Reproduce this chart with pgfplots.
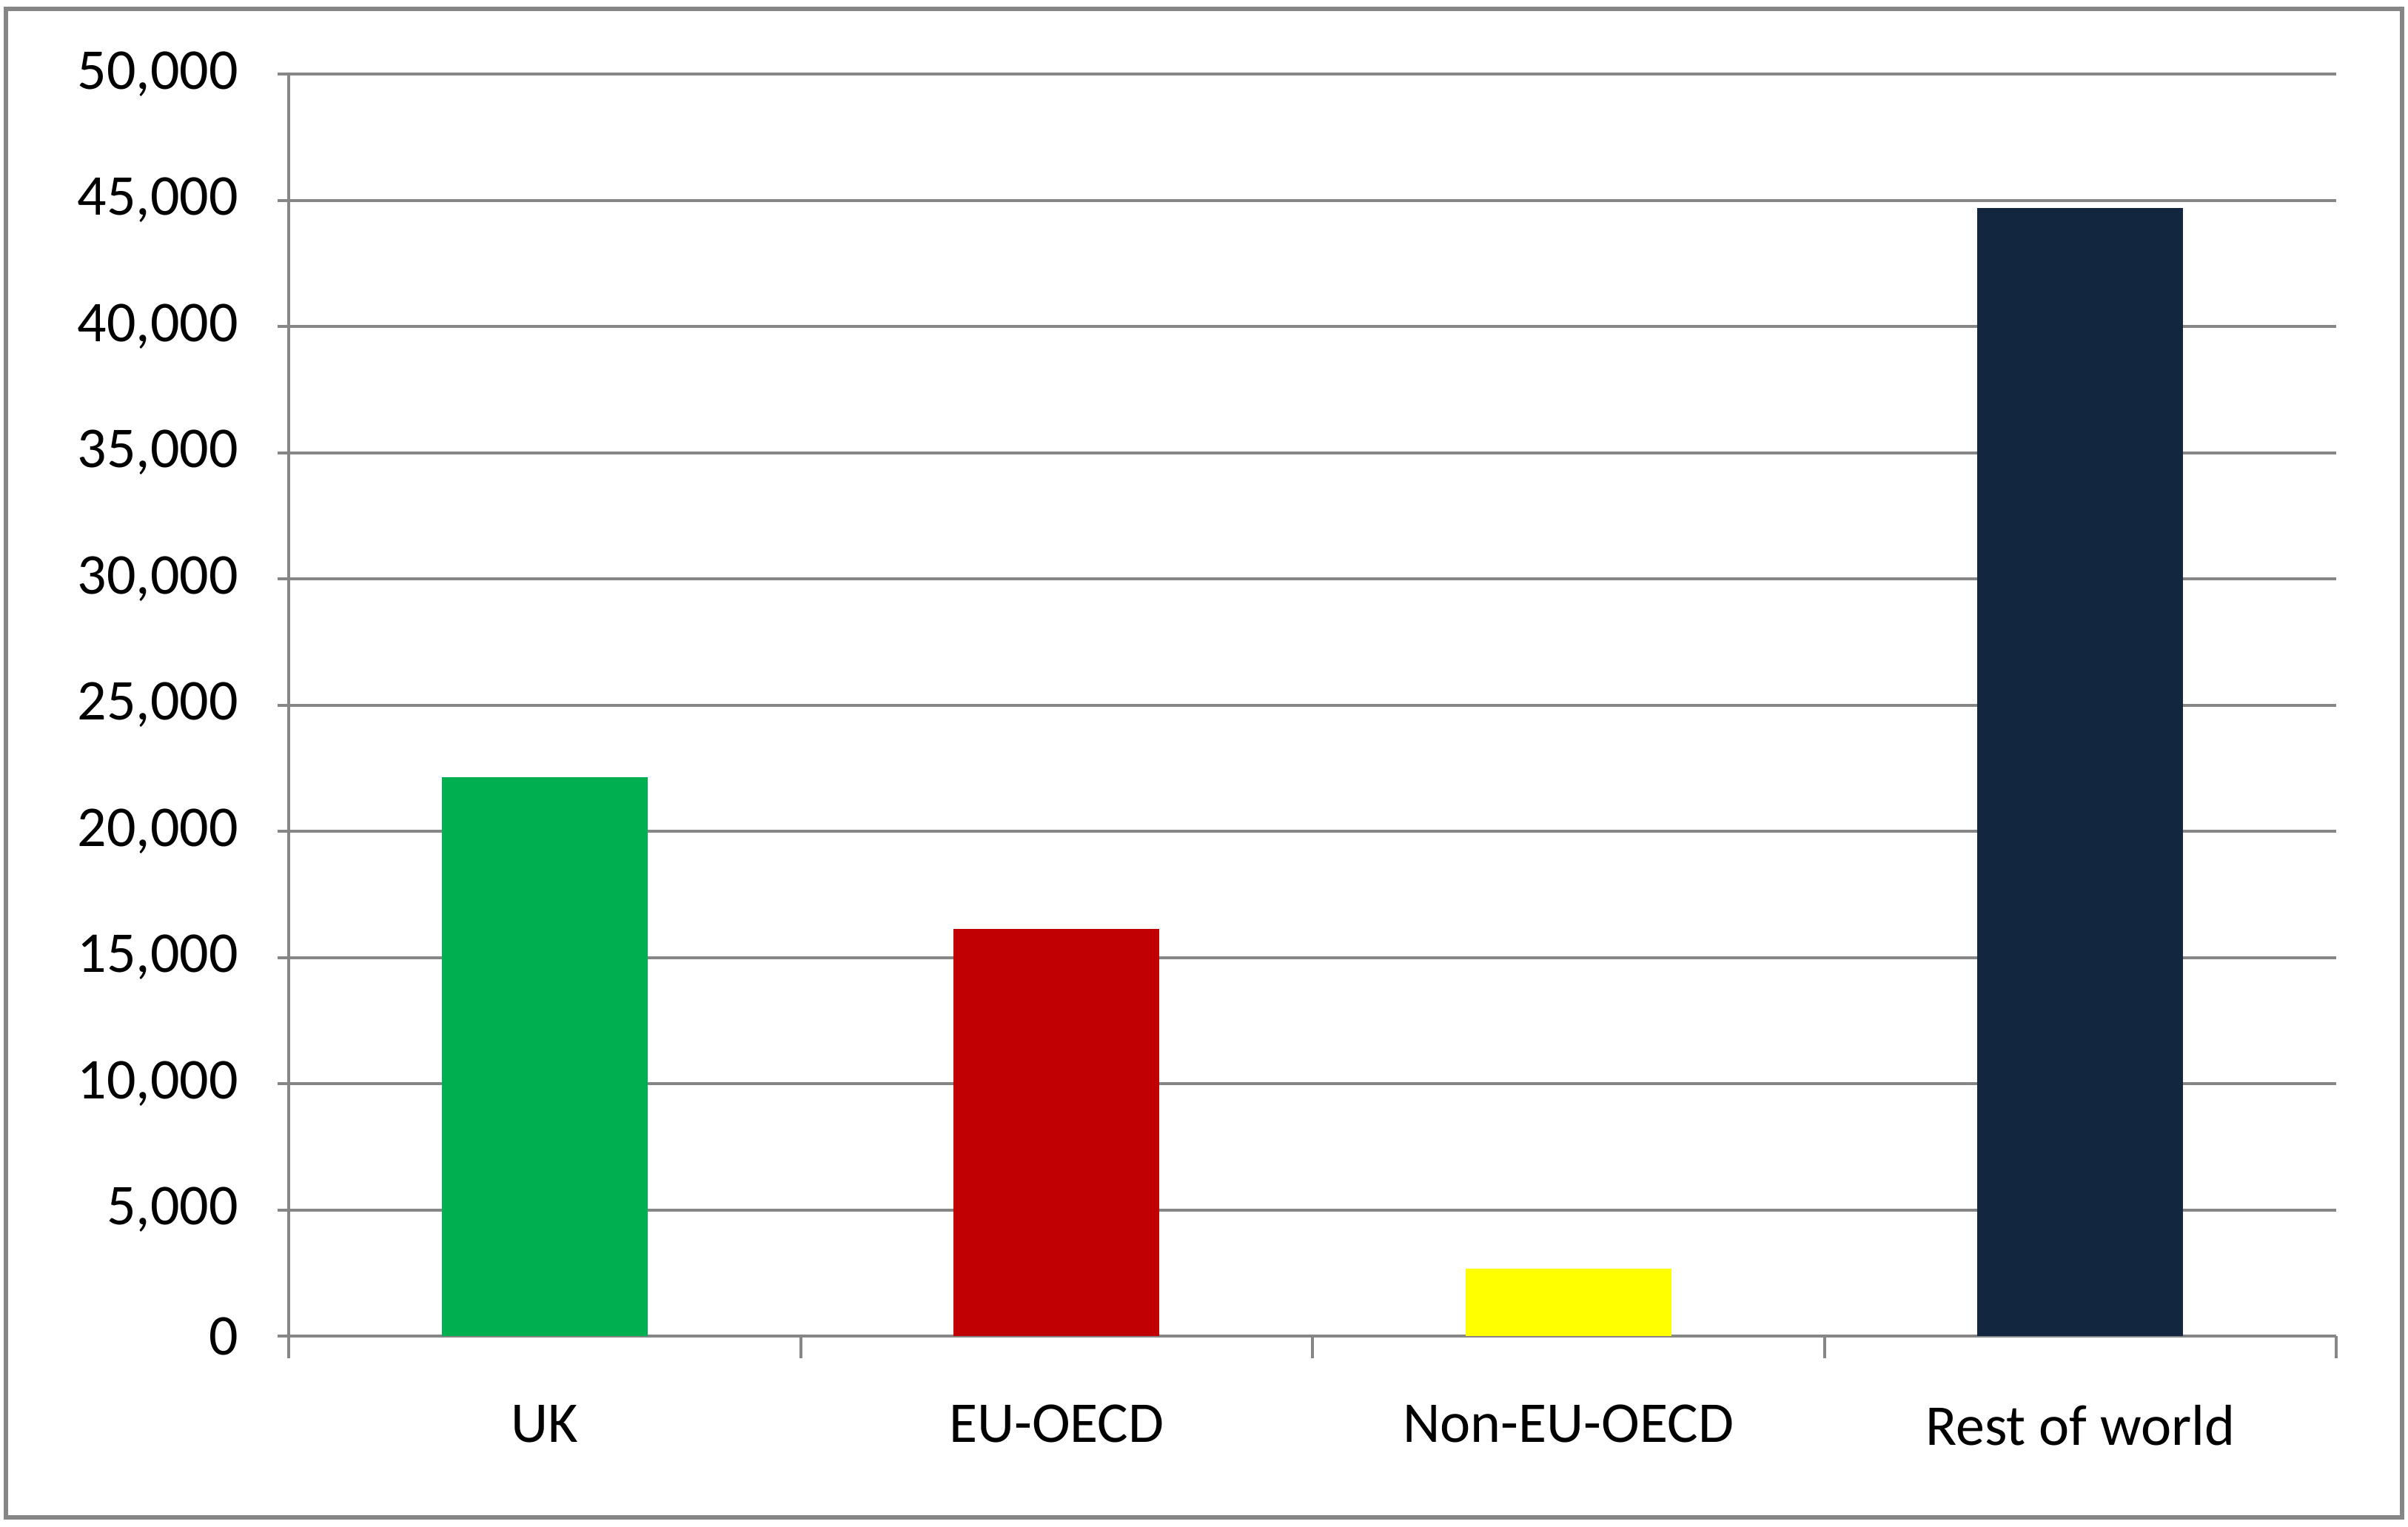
\documentclass[border=0pt]{standalone}
\usepackage{fontspec}
\setmainfont{Carlito}
\usepackage{pgfplots}
\pgfplotsset{compat=1.18}
\definecolor{gridgray}{RGB}{134,134,134}
\definecolor{ukgreen}{RGB}{0,176,80}
\definecolor{eured}{RGB}{192,0,0}
\definecolor{nonyellow}{RGB}{255,255,0}
\definecolor{rownavy}{RGB}{19,38,64}
\begin{document}
\begin{tikzpicture}
\useasboundingbox (-39pt,-25.7pt) rectangle (286.3pt,180.5pt);
\begin{axis}[
  at={(0,0)}, anchor=south west,
  scale only axis,
  width=276.6pt, height=170.5pt,
  xmin=0.5, xmax=4.5,
  ymin=0, ymax=50000,
  ytick={0,5000,...,50000},
  xtick={0.5,1.5,2.5,3.5,4.5},
  x tick label as interval,
  xticklabels={UK,EU-OECD,Non-EU-OECD,Rest of world},
  ymajorgrids,
  grid style={draw=gridgray, line width=0.4pt},
  axis x line=bottom, axis y line=left,
  axis line style={-, draw=gridgray, line width=0.4pt},
  tick style={draw=gridgray, line width=0.4pt},
  tick align=outside,
  major tick length=3pt,
  y tick style={xshift=1.5pt},
  /pgf/number format/assume math mode=true,
  /pgf/number format/1000 sep={,},
  scaled y ticks=false,
  tick label style={font=\fontsize{7.8}{9.4}\selectfont, text=black},
  yticklabel style={xshift=-0.3pt},
  xticklabel style={yshift=-2.8pt},
  ybar, bar width=27.8pt,
]
\addplot[fill=ukgreen, draw=none, bar shift=0pt] coordinates {(1,22150)};
\addplot[fill=eured, draw=none, bar shift=0pt] coordinates {(2,16130)};
\addplot[fill=nonyellow, draw=none, bar shift=0pt] coordinates {(3,2680)};
\addplot[fill=rownavy, draw=none, bar shift=0pt] coordinates {(4,44690)};
\end{axis}
\draw[draw=gridgray, line width=0.6pt] (-38.2pt,-24.5pt) rectangle (285.5pt,179.3pt);
\end{tikzpicture}
\end{document}
